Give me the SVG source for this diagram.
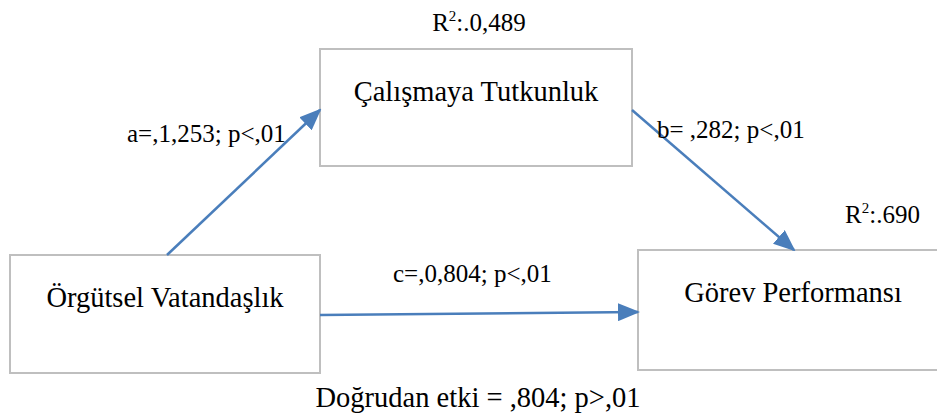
<svg xmlns="http://www.w3.org/2000/svg" width="937" height="416" viewBox="0 0 937 416">
<style>
  .box { fill: #ffffff; stroke: #bfbfbf; stroke-width: 2; }
  .t { font-family: "Liberation Serif", "Times New Roman", serif; fill: #000000; }
  .big { font-size: 28.5px; }
  .lbl { font-size: 25px; }
  .edge { fill: none; stroke: #4a7ebb; stroke-width: 2.5; }
</style>
<defs>
  <marker id="ah" markerUnits="userSpaceOnUse" markerWidth="22" markerHeight="18" viewBox="0 0 22 18" refX="20" refY="9" orient="auto">
    <path d="M0,0 L22,9 L0,18 Z" fill="#4a7ebb"/>
  </marker>
</defs>
<rect width="937" height="416" fill="#ffffff"/>

<g id="node-calisma">
  <rect class="box" x="320" y="49" width="312" height="117"/>
  <text class="t big" x="476" y="101" text-anchor="middle">Çalışmaya Tutkunluk</text>
</g>
<g id="node-orgutsel">
  <rect class="box" x="10" y="255" width="310" height="118"/>
  <text class="t big" x="165" y="307" text-anchor="middle">Örgütsel Vatandaşlık</text>
</g>
<g id="node-gorev">
  <rect class="box" x="638" y="250" width="310" height="120"/>
  <text class="t big" x="793" y="302" text-anchor="middle">Görev Performansı</text>
</g>

<g id="connectors">
  <line class="edge" x1="167" y1="255" x2="320" y2="110" marker-end="url(#ah)"/>
  <line class="edge" x1="632" y1="110" x2="794" y2="250" marker-end="url(#ah)"/>
  <line class="edge" x1="320" y1="315" x2="638" y2="312" marker-end="url(#ah)"/>
</g>

<g id="labels">
  <text class="t lbl" x="479" y="31" text-anchor="middle">R<tspan font-size="15" dy="-10">2</tspan><tspan dy="10">:.0,489</tspan></text>
  <text class="t lbl" x="127" y="142">a=,1,253; p&lt;,01</text>
  <text class="t lbl" x="657" y="138">b= ,282; p&lt;,01</text>
  <text class="t lbl" x="393" y="282">c=,0,804; p&lt;,01</text>
  <text class="t lbl" x="845" y="223">R<tspan font-size="15" dy="-10">2</tspan><tspan dy="10">:.690</tspan></text>
  <text class="t big" x="478" y="407" text-anchor="middle">Doğrudan etki = ,804; p&gt;,01</text>
</g>
</svg>
